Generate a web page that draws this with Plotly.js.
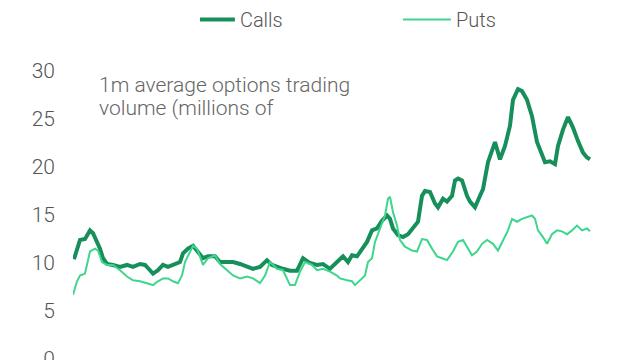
<!DOCTYPE html>
<html>
<head>
<meta charset="utf-8">
<script src="https://cdn.plot.ly/plotly-3.0.1.min.js"></script>
<style>
  html, body { margin: 0; padding: 0; background: #fff; overflow: hidden; }
  #chart { width: 640px; height: 360px; }
</style>
</head>
<body>
<div id="chart"></div>
<script>
// Day index (time since start of the period)
const callsDays = [1,4,7,12,17,20,24,27,30,34,40,47,54,60,67,72,77,80,85,90,95,100,107,110,115,120,125,130,135,142,147,154,160,167,174,180,187,194,199,204,210,217,224,230,237,244,250,257,264,270,275,279,284,289,294,299,304,309,314,317,320,325,330,335,340,345,349,352,357,362,365,370,374,379,382,385,389,394,397,402,407,410,415,419,422,427,432,437,440,445,449,454,459,464,469,472,477,482,485,490,495,500,505,510,514,517];
// 1m average call volume, millions of contracts
const callsVolume = [10.4,11.5,12.4,12.5,13.4,13.1,12.2,11.5,10.5,9.9,9.8,9.6,9.8,9.6,9.9,9.8,9.25,8.9,9.25,9.8,9.6,9.8,10.1,11.0,11.5,11.8,11.2,10.5,10.7,10.7,10.1,10.1,10.1,9.9,9.6,9.4,9.6,10.3,9.8,9.6,9.4,9.2,9.2,10.5,10.0,9.8,9.9,9.4,10.1,10.7,10.1,10.8,10.7,11.5,12.2,13.4,13.6,14.4,14.95,14.6,13.6,12.9,12.7,13.0,13.6,14.3,17.0,17.5,17.4,16.2,15.8,16.7,16.4,17.0,18.6,18.8,18.6,17.0,16.4,15.8,17.0,17.7,20.5,21.9,22.6,20.8,22.2,24.3,27.0,28.1,27.9,27.0,25.3,22.6,21.2,20.5,20.6,20.3,22.2,23.9,25.2,24.1,22.7,21.5,21.0,20.8];

const putsDays = [0,4,7,12,17,22,25,29,34,40,47,54,60,67,74,80,85,90,95,100,105,109,112,117,120,124,130,135,142,147,154,160,167,174,180,187,192,197,204,210,217,222,227,232,239,244,250,257,264,267,274,279,282,287,292,295,299,302,307,312,315,317,320,324,327,332,339,344,349,354,359,364,369,374,380,385,390,395,399,404,409,414,420,425,430,435,439,444,449,454,459,462,465,470,474,479,484,489,494,499,504,509,514,517];
// 1m average put volume, millions of contracts
const putsVolume = [6.7,8.1,8.7,8.9,11.2,11.5,11.3,10.1,9.8,9.8,9.25,8.6,8.2,8.1,7.9,7.7,8.1,8.4,8.4,8.1,7.9,8.7,10.1,11.2,11.8,11.5,9.8,10.5,10.8,9.9,9.25,8.7,8.4,8.6,8.4,7.9,8.7,10.1,9.4,9.25,7.7,7.7,9.1,10.1,9.8,9.25,9.4,9.1,8.7,8.4,8.2,8.1,7.7,8.2,8.7,10.1,10.5,12.2,13.6,14.95,16.7,16.9,15.3,13.9,12.4,11.7,11.3,11.2,12.5,12.4,11.5,10.7,10.5,10.3,11.2,12.2,12.4,11.5,10.8,11.2,12.0,12.4,12.0,11.3,12.4,13.4,14.6,14.3,14.6,14.8,14.95,14.6,13.4,12.7,12.0,13.0,13.4,13.3,13.0,13.4,13.9,13.4,13.6,13.3];

const seriesNames = ['Calls', 'Puts'];
const yTicks = [0, 5, 10, 15, 20, 25, 30];
const noteLines = ['1m average options trading', 'volume (millions of'];

const FONT = 'Roboto, "Open Sans", sans-serif';

const traces = [
  {
    x: callsDays, y: callsVolume, name: seriesNames[0], type: 'scatter', mode: 'lines',
    line: { color: '#178f5b', width: 4 }
  },
  {
    x: putsDays, y: putsVolume, name: seriesNames[1], type: 'scatter', mode: 'lines',
    line: { color: '#3dd68c', width: 2 }
  }
];

const noteY = [0.952, 0.872];

const layout = {
  width: 640, height: 360,
  margin: { l: 73, r: 49, t: 71, b: 0 },
  paper_bgcolor: '#ffffff', plot_bgcolor: '#ffffff',
  font: { family: FONT, color: '#555555' },
  showlegend: true,
  legend: {
    orientation: 'h', x: 0.245, xanchor: 'left', y: 1.18, yanchor: 'middle',
    font: { family: FONT, size: 20, color: '#555555', weight: 300 },
    entrywidth: 171, bgcolor: 'rgba(0,0,0,0)'
  },
  xaxis: { visible: false, range: [0, 518], fixedrange: true },
  yaxis: {
    range: [-0.1, 30], tickvals: yTicks, ticktext: yTicks.map(String),
    showgrid: false, zeroline: false, showline: false, ticks: '',
    ticklabelstandoff: 17, ticklabeloverflow: 'allow',
    tickfont: { family: FONT, size: 21, color: '#555555', weight: 300 },
    fixedrange: true
  },
  annotations: noteLines.map((t, i) => ({
    text: t, xref: 'paper', yref: 'paper', x: 0.047, y: noteY[i],
    xanchor: 'left', yanchor: 'middle', align: 'left', showarrow: false,
    font: { family: FONT, size: 21, color: '#666666', weight: 300 }
  }))
};

Plotly.newPlot('chart', traces, layout, { displayModeBar: false, staticPlot: true }).then(gd => {
  // lengthen the legend line samples to match the reference
  gd.querySelectorAll('.legend .legendlines path').forEach(p => {
    p.setAttribute('d', 'M-13,0h48');
  });
});
</script>
</body>
</html>
